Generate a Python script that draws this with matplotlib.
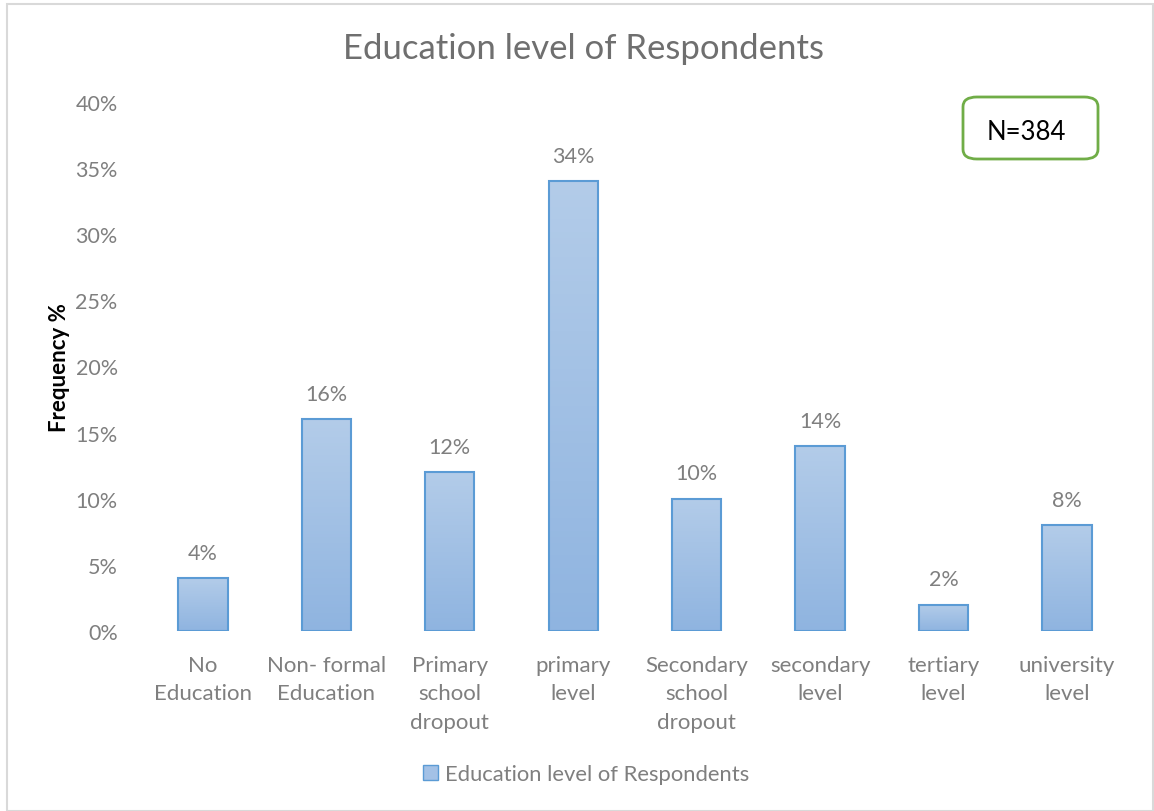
import matplotlib
matplotlib.use("Agg")
import matplotlib.pyplot as plt
import numpy as np
from matplotlib.patches import Rectangle, FancyBboxPatch, Patch
from matplotlib.colors import LinearSegmentedColormap

categories = ["No\nEducation", "Non- formal\nEducation", "Primary\nschool\ndropout",
              "primary\nlevel", "Secondary\nschool\ndropout", "secondary\nlevel",
              "tertiary\nlevel", "university\nlevel"]
values = [4, 16, 12, 34, 10, 14, 2, 8]
yticks = [0, 5, 10, 15, 20, 25, 30, 35, 40]
series_name = "Education level of Respondents"
title = "Education level of Respondents"
note = "N=384"

plt.rcParams['font.family'] = ['Lato', 'DejaVu Sans']
gray = '#7f7f7f'
edge = '#5b9bd5'

fig = plt.figure(figsize=(11.54, 8.12), dpi=100)
ax = fig.add_axes([0.1224, 1 - 632 / 812, 0.8556, 529 / 812])

x = np.arange(len(values))
bars = ax.bar(x, values, width=0.4, color='none', edgecolor=edge, linewidth=1.5, zorder=3)
grad = np.linspace(0, 1, 256).reshape(-1, 1)
cmap = LinearSegmentedColormap.from_list('g', ['#8fb4e0', '#b3cce9'])
for b in bars:
    x0, y0, w, h = b.get_x(), b.get_y(), b.get_width(), b.get_height()
    im = ax.imshow(grad, extent=[x0, x0 + w, y0, y0 + h], origin='lower', cmap=cmap,
                   aspect='auto', zorder=2)
    im.set_clip_path(b)

for xi, v in zip(x, values):
    ax.annotate(f"{v}%", (xi, v), xytext=(0, 11), textcoords='offset points',
                ha='center', va='bottom', color=gray, fontsize=15.5)

ax.set_xlim(-0.5, len(values) - 0.5)
ax.set_ylim(0, 40)
ax.set_yticks(yticks)
ax.set_yticklabels([f"{t}%" for t in yticks])
ax.set_xticks(x)
ax.set_xticklabels(categories, linespacing=1.55)
ax.tick_params(axis='both', length=0, colors=gray, labelsize=16)
ax.tick_params(axis='x', pad=17)
ax.tick_params(axis='y', pad=17, labelsize=15.5)
for s in ax.spines.values():
    s.set_visible(False)
ax.set_ylabel("Frequency %", fontsize=16, fontweight='bold', color='black', labelpad=4)

fig.text(0.5055, 1 - 49 / 812, title, ha='center', va='center', fontsize=25, color='#6f6f6f')

# N box
box = FancyBboxPatch((963 / 1154, 1 - 160 / 812), 135 / 1154, 62 / 812,
                     boxstyle="round,pad=0,rounding_size=0.012", transform=fig.transFigure,
                     facecolor='white', edgecolor='#70ad47', linewidth=2, zorder=5)
fig.patches.append(box)
fig.text(1026 / 1154, 1 - 132 / 812, note, ha='center', va='center', fontsize=18.5, color='black', zorder=6)

leg = fig.legend(handles=[Patch(facecolor='#a3c1e6', edgecolor=edge, label=series_name)],
                 loc='center', bbox_to_anchor=(0.508, 1 - 775 / 812), frameon=False,
                 fontsize=15.8, handlelength=0.7, handleheight=0.7, handletextpad=0.3)
for t in leg.get_texts():
    t.set_color(gray)

border = Rectangle((7 / 1154, 0), 1 - 8 / 1154, 1 - 5 / 812, transform=fig.transFigure,
                   fill=False, edgecolor='#d9d9d9', linewidth=1.5)
fig.patches.append(border)

fig.savefig("out.png", dpi=100)
